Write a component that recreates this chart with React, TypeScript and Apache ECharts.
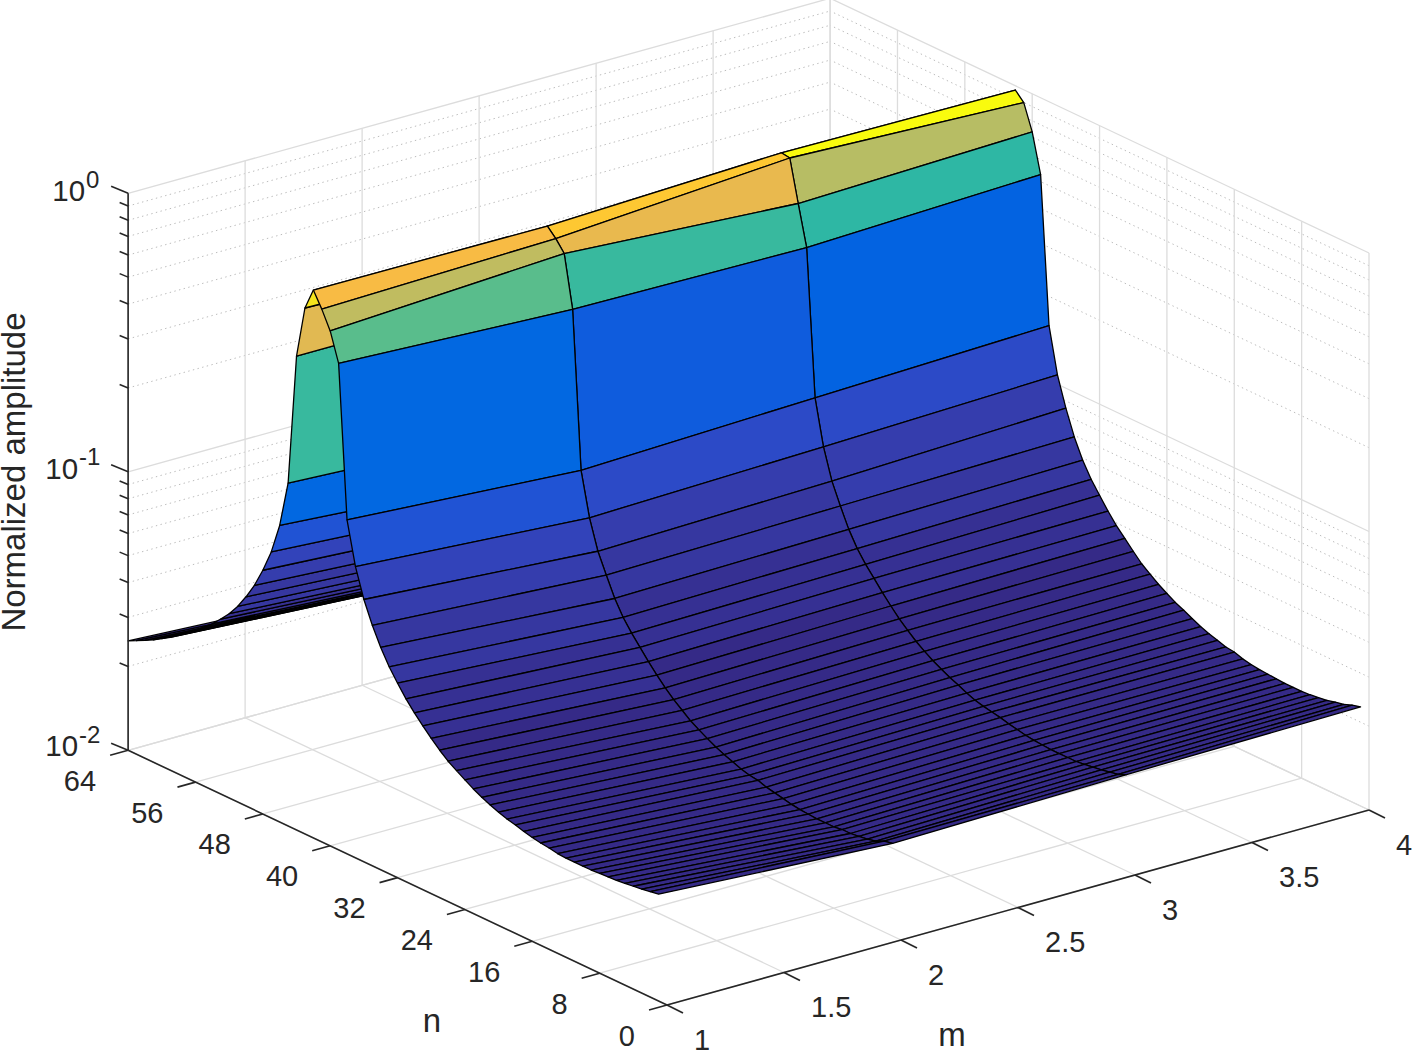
import React, { useEffect, useRef } from "react";
import * as echarts from "echarts";

const mValues = [1, 2, 3, 4];
const nValues = [
  1, 2, 3, 4, 5, 6, 7, 8, 9, 10, 11, 12, 13, 14, 15, 16, 17, 18, 19, 20, 21, 22, 23, 24, 25, 26, 27, 28, 29, 30, 31, 32,
  33, 34, 35, 36, 37, 38, 39, 40, 41, 42, 43, 44, 45, 46, 47, 48, 49, 50, 51, 52, 53, 54, 55, 56, 57, 58, 59, 60, 61, 62, 63, 64,
];
const ampM1 = [
  0.0242, 0.0239, 0.0236, 0.0234, 0.0232, 0.023, 0.0229, 0.0228, 0.0227, 0.0227, 0.0227, 0.0227, 0.0228, 0.0231, 0.0233, 0.0236,
  0.024, 0.0245, 0.0249, 0.0255, 0.0262, 0.027, 0.028, 0.0292, 0.0305, 0.0319, 0.0338, 0.0361, 0.0387, 0.0417, 0.0453, 0.0499,
  0.0553, 0.0628, 0.073, 0.0874, 0.111, 0.158, 0.558, 0.706, 0.818, 0.927, 0.773, 0.502, 0.17, 0.116, 0.0902, 0.075,
  0.0641, 0.0564, 0.0504, 0.0459, 0.0425, 0.0395, 0.0372, 0.0351, 0.0332, 0.0316, 0.03, 0.0287, 0.0275, 0.0265, 0.0256, 0.0247,
];
const ampM2 = [
  0.0215, 0.0212, 0.0205, 0.0202, 0.02, 0.0198, 0.0198, 0.0196, 0.0196, 0.0196, 0.0197, 0.0198, 0.02, 0.0203, 0.0206, 0.0209,
  0.0214, 0.0216, 0.022, 0.0226, 0.0232, 0.0239, 0.0248, 0.0258, 0.0269, 0.0284, 0.03, 0.032, 0.0344, 0.0372, 0.0405, 0.0441,
  0.0486, 0.055, 0.0645, 0.0761, 0.0971, 0.139, 0.509, 0.782, 0.856, 0.919, 0.739, 0.503, 0.154, 0.101, 0.0796, 0.0666,
  0.0568, 0.05, 0.0448, 0.0407, 0.0376, 0.035, 0.0329, 0.0311, 0.0295, 0.028, 0.0266, 0.0255, 0.0244, 0.0235, 0.0227, 0.0222,
];
const ampM3 = [
  0.0222, 0.0215, 0.0212, 0.0209, 0.0207, 0.0205, 0.0203, 0.0203, 0.0203, 0.0203, 0.0204, 0.0205, 0.0207, 0.021, 0.0213, 0.0217,
  0.022, 0.0223, 0.0227, 0.0233, 0.0241, 0.0248, 0.0257, 0.0267, 0.0279, 0.0293, 0.0311, 0.0331, 0.0356, 0.0385, 0.0419, 0.0455,
  0.0502, 0.0569, 0.0668, 0.0794, 0.102, 0.148, 0.496, 0.691, 0.974, 0.984, 0.8, 0.53, 0.165, 0.108, 0.085, 0.071,
  0.06, 0.053, 0.0475, 0.0432, 0.0398, 0.037, 0.0348, 0.0329, 0.0312, 0.0297, 0.0282, 0.027, 0.0258, 0.0249, 0.024, 0.0232,
];
const ampM4 = [
  0.0227, 0.0223, 0.0217, 0.0214, 0.021, 0.0208, 0.0206, 0.0205, 0.0205, 0.0205, 0.0206, 0.0207, 0.0208, 0.021, 0.0213, 0.0218,
  0.022, 0.0225, 0.023, 0.0236, 0.0244, 0.0253, 0.0261, 0.0272, 0.0284, 0.0299, 0.0315, 0.0338, 0.0364, 0.0391, 0.0427, 0.0471,
  0.052, 0.0589, 0.0691, 0.0848, 0.108, 0.157, 0.53, 0.73, 0.9, 0.966, 0.81, 0.53, 0.17, 0.112, 0.088, 0.073,
  0.062, 0.055, 0.049, 0.0445, 0.041, 0.038, 0.0358, 0.0338, 0.032, 0.0305, 0.029, 0.0277, 0.0265, 0.0255, 0.0246, 0.0238,
];
const ampByM = [ampM1, ampM2, ampM3, ampM4];

const mTicks = [1, 1.5, 2, 2.5, 3, 3.5, 4];
const mTickLabels = ["1", "1.5", "2", "2.5", "3", "3.5", "4"];
const nTicks = [0, 8, 16, 24, 32, 40, 48, 56, 64];
const nTickLabels = ["0", "8", "16", "24", "32", "40", "48", "56", "64"];
const zMajor = [0.01, 0.1, 1];
const zMajorExp = ["-2", "-1", "0"];
const zMinor = [
  0.02, 0.03, 0.04, 0.05, 0.06, 0.07, 0.08, 0.09, 0.2, 0.3, 0.4, 0.5, 0.6, 0.7, 0.8, 0.9,
];

const parula = [
  [0.2081, 0.1663, 0.5292], [0.2116, 0.1898, 0.5777], [0.2123, 0.2138, 0.627], [0.2081, 0.2386, 0.6771],
  [0.1959, 0.2645, 0.7279], [0.1707, 0.2919, 0.7792], [0.1253, 0.3242, 0.8303], [0.0591, 0.3598, 0.8683],
  [0.0117, 0.3875, 0.882], [0.006, 0.4086, 0.8828], [0.0165, 0.4266, 0.8786], [0.0329, 0.443, 0.872],
  [0.0498, 0.4586, 0.8641], [0.0629, 0.4737, 0.8554], [0.0723, 0.4887, 0.8467], [0.0779, 0.504, 0.8384],
  [0.0793, 0.52, 0.8312], [0.0749, 0.5375, 0.8263], [0.0641, 0.557, 0.824], [0.0488, 0.5772, 0.8228],
  [0.0343, 0.5966, 0.8199], [0.0265, 0.6137, 0.8135], [0.0239, 0.6287, 0.8038], [0.0231, 0.6418, 0.7913],
  [0.0228, 0.6535, 0.7768], [0.0267, 0.6642, 0.7607], [0.0384, 0.6743, 0.7436], [0.059, 0.6838, 0.7254],
  [0.0843, 0.6928, 0.7062], [0.1133, 0.7015, 0.6859], [0.1453, 0.7098, 0.6646], [0.1801, 0.7177, 0.6424],
  [0.2178, 0.725, 0.6193], [0.2586, 0.7317, 0.5954], [0.3022, 0.7376, 0.5712], [0.3482, 0.7424, 0.5473],
  [0.3953, 0.7459, 0.5244], [0.442, 0.7481, 0.5033], [0.4871, 0.7491, 0.484], [0.53, 0.7491, 0.4661],
  [0.5709, 0.7485, 0.4494], [0.6099, 0.7473, 0.4337], [0.6473, 0.7456, 0.4188], [0.6834, 0.7435, 0.4044],
  [0.7184, 0.7411, 0.3905], [0.7525, 0.7384, 0.3768], [0.7858, 0.7356, 0.3633], [0.8185, 0.7327, 0.3498],
  [0.8507, 0.7299, 0.336], [0.8824, 0.7274, 0.3217], [0.9139, 0.7258, 0.3063], [0.945, 0.7261, 0.2886],
  [0.9739, 0.7314, 0.2666], [0.9938, 0.7455, 0.2403], [0.999, 0.7653, 0.2164], [0.9955, 0.7861, 0.1967],
  [0.988, 0.8066, 0.1794], [0.9789, 0.8271, 0.1633], [0.9697, 0.8481, 0.1475], [0.9626, 0.8705, 0.1309],
  [0.9589, 0.8949, 0.1132], [0.9598, 0.9218, 0.0948], [0.9661, 0.9514, 0.0755], [0.9763, 0.9831, 0.0538],
];

const WIDTH = 1412;
const HEIGHT = 1050;
const TEXT = "#262626";
const FONT = "'Liberation Sans', Arial, sans-serif";

const project = (m: number, n: number, z: number) => [
  667 + 234 * (m - 1) - 8.42 * n,
  1005 - 65 * (m - 1) - 3.98 * n - 278.5 * (Math.log10(z) + 2),
];

const allAmp = ampByM.flat();
const zLo = Math.min(...allAmp);
const zHi = Math.max(...allAmp);
const colorOf = (z: number) => {
  const t = Math.max(0, Math.min(0.9999, (z - zLo) / (zHi - zLo)));
  const c = parula[Math.floor(t * parula.length)];
  return `rgb(${Math.round(c[0] * 255)},${Math.round(c[1] * 255)},${Math.round(c[2] * 255)})`;
};

// Surface cells, far to near so that near cells paint over far ones.
const cells: number[][] = [];
for (let j = nValues.length - 2; j >= 0; j--) {
  for (let i = mValues.length - 2; i >= 0; i--) {
    cells.push([
      mValues[i], mValues[i + 1], nValues[j], nValues[j + 1],
      ampByM[i][j], ampByM[i + 1][j], ampByM[i + 1][j + 1], ampByM[i][j + 1],
    ]);
  }
}

const solidSegs: number[][] = [];
const dottedSegs: number[][] = [];
mTicks.forEach((m) => {
  solidSegs.push([m, 0, 0.01, m, 64, 0.01]);
  solidSegs.push([m, 64, 0.01, m, 64, 1]);
});
nTicks.forEach((n) => {
  solidSegs.push([1, n, 0.01, 4, n, 0.01]);
  solidSegs.push([4, n, 0.01, 4, n, 1]);
});
zMajor.forEach((z) => {
  solidSegs.push([1, 64, z, 4, 64, z]);
  solidSegs.push([4, 0, z, 4, 64, z]);
});
zMinor.forEach((z) => {
  dottedSegs.push([1, 64, z, 4, 64, z]);
  dottedSegs.push([4, 0, z, 4, 64, z]);
});

const axisSegs = [
  [1, 64, 0.01, 1, 64, 1],
  [1, 0, 0.01, 1, 64, 0.01],
  [1, 0, 0.01, 4, 0, 0.01],
];

// [m, n, z, dx, dy]
const tickSegs: number[][] = [];
mTicks.forEach((m) => tickSegs.push([m, 0, 0.01, 16, 8]));
nTicks.forEach((n) => tickSegs.push([1, n, 0.01, -18, 5]));
zMajor.forEach((z) => tickSegs.push([1, 64, z, -17, -7]));
zMinor.forEach((z) => tickSegs.push([1, 64, z, -8.5, -3.5]));

type Label = { text: string; m: number; n: number; z: number; dx: number; dy: number; size: number; align: string };
const labels: Label[] = [];
mTicks.forEach((m, i) => labels.push({ text: mTickLabels[i], m, n: 0, z: 0.01, dx: 27, dy: 34.5, size: 29, align: "left" }));
nTicks.forEach((n, i) => labels.push({ text: nTickLabels[i], m: 1, n, z: 0.01, dx: -32, dy: 30.5, size: 29, align: "right" }));
const expDx = [-49, -49, -42];
const baseDx = [-50, -50, -43];
const baseDy = [-4.5, -3.5, -2.5];
const expDy = [-16, -15.5, -14];
zMajor.forEach((z, i) => {
  labels.push({ text: "10", m: 1, n: 64, z, dx: baseDx[i], dy: baseDy[i], size: 29.5, align: "right" });
  labels.push({ text: zMajorExp[i], m: 1, n: 64, z, dx: expDx[i], dy: expDy[i], size: 24, align: "left" });
});
const titles = [
  { text: "n", x: 432, y: 1020, size: 33, rot: 0 },
  { text: "m", x: 952, y: 1034, size: 33, rot: 0 },
  { text: "Normalized amplitude", x: 13, y: 472, size: 33, rot: Math.PI / 2 },
];

const segItem = (api: any, style: any) => {
  const a = api.coord(project(api.value(0), api.value(1), api.value(2)));
  const b = api.coord(project(api.value(3), api.value(4), api.value(5)));
  return { type: "line", shape: { x1: a[0], y1: a[1], x2: b[0], y2: b[1] }, style };
};

export default function App() {
  const ref = useRef<HTMLDivElement>(null);
  useEffect(() => {
    if (!ref.current) return;
    const chart = echarts.init(ref.current, undefined, { renderer: "svg" });
    chart.setOption({
      animation: false,
      backgroundColor: "#ffffff",
      grid: { left: 0, right: 0, top: 0, bottom: 0 },
      xAxis: { type: "value", min: 0, max: WIDTH, show: false },
      yAxis: { type: "value", min: 0, max: HEIGHT, inverse: true, show: false },
      series: [
        {
          type: "custom", coordinateSystem: "cartesian2d", z: 1, silent: true, clip: false,
          data: dottedSegs,
          renderItem: (_p: any, api: any) => segItem(api, { stroke: "#bcbcbc", lineWidth: 1, lineDash: [1.4, 3.4], fill: null }),
        },
        {
          type: "custom", coordinateSystem: "cartesian2d", z: 2, silent: true, clip: false,
          data: solidSegs,
          renderItem: (_p: any, api: any) => segItem(api, { stroke: "#dcdcdc", lineWidth: 1.3, fill: null }),
        },
        {
          type: "custom", coordinateSystem: "cartesian2d", z: 3, silent: true, clip: false,
          data: cells,
          renderItem: (p: any, api: any) => {
            const m0 = api.value(0), m1 = api.value(1), n0 = api.value(2), n1 = api.value(3);
            const pts = [
              api.coord(project(m0, n0, api.value(4))),
              api.coord(project(m1, n0, api.value(5))),
              api.coord(project(m1, n1, api.value(6))),
              api.coord(project(m0, n1, api.value(7))),
            ];
            return {
              type: "polygon",
              z2: p.dataIndex,
              shape: { points: pts },
              style: { fill: colorOf(api.value(4)), stroke: "#000000", lineWidth: 1.3, lineJoin: "round" },
            };
          },
        },
        {
          type: "custom", coordinateSystem: "cartesian2d", z: 4, silent: true, clip: false,
          data: axisSegs,
          renderItem: (_p: any, api: any) => segItem(api, { stroke: TEXT, lineWidth: 1.6, fill: null }),
        },
        {
          type: "custom", coordinateSystem: "cartesian2d", z: 4, silent: true, clip: false,
          data: tickSegs,
          renderItem: (_p: any, api: any) => {
            const a = api.coord(project(api.value(0), api.value(1), api.value(2)));
            return {
              type: "line",
              shape: { x1: a[0], y1: a[1], x2: a[0] + api.value(3), y2: a[1] + api.value(4) },
              style: { stroke: TEXT, lineWidth: 1.6, fill: null },
            };
          },
        },
        {
          type: "custom", coordinateSystem: "cartesian2d", z: 5, silent: true, clip: false,
          data: labels.map((l) => [l.m, l.n, l.z]),
          renderItem: (p: any, api: any) => {
            const l = labels[p.dataIndex];
            const a = api.coord(project(api.value(0), api.value(1), api.value(2)));
            return {
              type: "text",
              x: a[0] + l.dx,
              y: a[1] + l.dy,
              style: { text: l.text, fontSize: l.size, lineHeight: 20, fontFamily: FONT, fill: TEXT, align: l.align, verticalAlign: "middle" },
            };
          },
        },
        {
          type: "custom", coordinateSystem: "cartesian2d", z: 5, silent: true, clip: false,
          data: titles.map((t) => [t.x, t.y]),
          renderItem: (p: any, api: any) => {
            const t = titles[p.dataIndex];
            const a = api.coord([api.value(0), api.value(1)]);
            return {
              type: "text",
              x: a[0],
              y: a[1],
              rotation: t.rot,
              style: { text: t.text, fontSize: t.size, lineHeight: 26, fontFamily: FONT, fill: TEXT, align: "center", verticalAlign: "middle" },
            };
          },
        },
      ],
    });
    return () => chart.dispose();
  }, []);
  return <div ref={ref} style={{ position: "absolute", left: 0, top: 0, width: WIDTH, height: HEIGHT }} />;
}
